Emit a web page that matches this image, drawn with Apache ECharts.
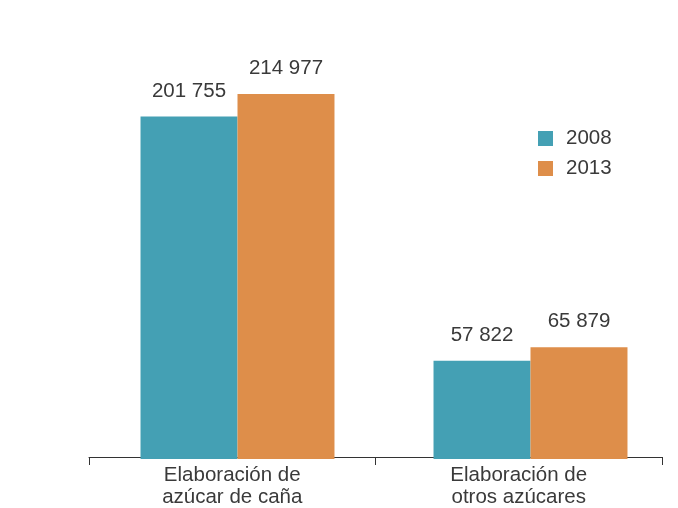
<!DOCTYPE html>
<html>
<head>
<meta charset="utf-8">
<script src="https://cdn.jsdelivr.net/npm/echarts@6/dist/echarts.min.js"></script>
<style>
  html, body { margin: 0; padding: 0; background: #fff; }
  #chart { width: 678px; height: 508px; }
</style>
</head>
<body>
<div id="chart"></div>
<script>
// datos
var categorias = ['Elaboración de\nazúcar de caña', 'Elaboración de\notros azúcares'];
var anios = ['2008', '2013'];
var valores2008 = [201755, 57822];
var valores2013 = [214977, 65879];
var colores = ['#44a0b4', '#de8e4a'];

var fmt = function (v) {
  return String(v).replace(/\B(?=(\d{3})+(?!\d))/g, ' ');
};

var myChart = echarts.init(document.getElementById('chart'));

var etiqueta = {
  show: true,
  position: 'top',
  distance: 15,
  color: '#3a3a3a',
  fontSize: 20.5,
  fontFamily: 'Liberation Sans, Arial, sans-serif',
  formatter: function (p) { return fmt(p.value); }
};

var option = {
  backgroundColor: '#fff',
  animation: false,
  textStyle: { fontFamily: 'Liberation Sans, Arial, sans-serif' },
  legend: {
    orient: 'vertical',
    left: 538,
    top: 128,
    padding: 0,
    itemWidth: 15,
    itemHeight: 15,
    itemGap: 9,
    icon: 'rect',
    textStyle: { color: '#3a3a3a', fontSize: 20.5, padding: [0, 0, 0, 8] },
    data: anios
  },
  // grid 0: barras, grid 1: eje visible
  grid: [
    { left: 91, right: 1, top: 94, bottom: 49 },
    { left: 89, right: 16, top: 94, bottom: 49 }
  ],
  xAxis: [
    {
      type: 'category',
      gridIndex: 0,
      data: categorias,
      show: false
    },
    {
      type: 'category',
      gridIndex: 1,
      data: categorias,
      axisLine: { lineStyle: { color: '#333', width: 1 } },
      axisTick: { show: true, length: 8, lineStyle: { color: '#333' } },
      axisLabel: {
        color: '#3a3a3a',
        fontSize: 20.5,
        lineHeight: 22,
        margin: 7
      }
    }
  ],
  yAxis: [
    { type: 'value', gridIndex: 0, min: 0, max: 215000, show: false },
    { type: 'value', gridIndex: 1, min: 0, max: 215000, show: false }
  ],
  series: [
    {
      name: anios[0],
      type: 'bar',
      xAxisIndex: 0,
      yAxisIndex: 0,
      data: valores2008,
      barGap: 0,
      barCategoryGap: '33.8%',
      itemStyle: { color: colores[0] },
      label: etiqueta
    },
    {
      name: anios[1],
      type: 'bar',
      xAxisIndex: 0,
      yAxisIndex: 0,
      data: valores2013,
      barGap: 0,
      barCategoryGap: '33.8%',
      itemStyle: { color: colores[1] },
      label: etiqueta
    }
  ]
};

myChart.setOption(option);
</script>
</body>
</html>
